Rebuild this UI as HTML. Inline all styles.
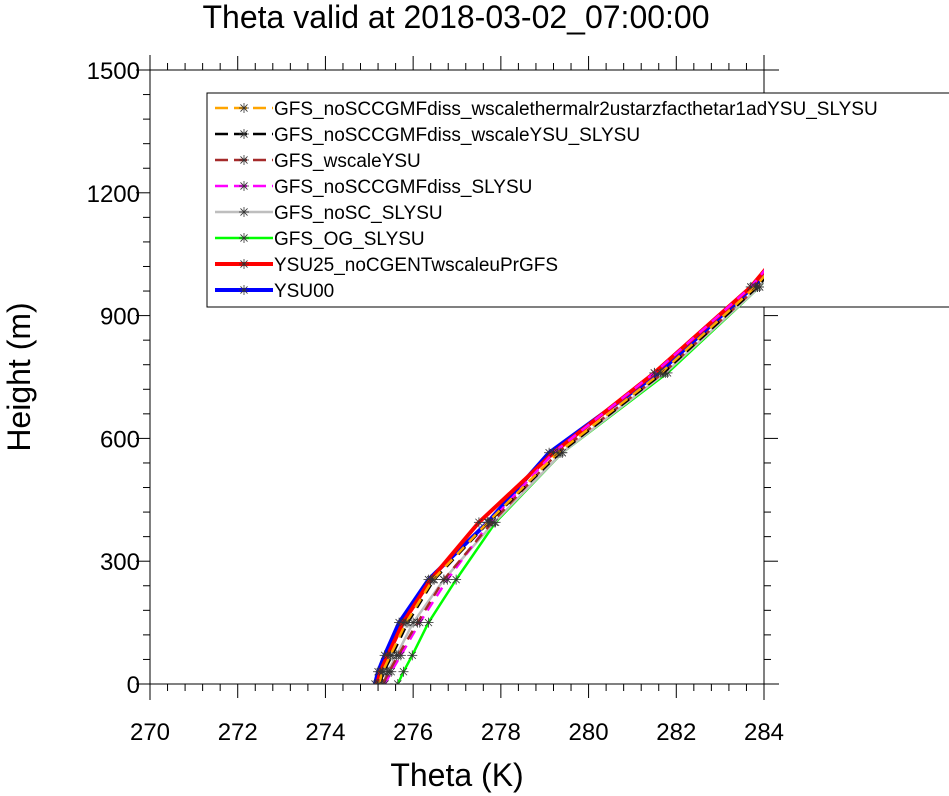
<!DOCTYPE html>
<html><head><meta charset="utf-8"><style>
body{margin:0;background:#fff}
svg{display:block;font-family:"Liberation Sans",sans-serif}
</style></head><body>
<svg id="chart" width="949" height="796" viewBox="0 0 949 796">
<defs><clipPath id="plotclip"><rect x="150" y="70" width="614" height="614"/></clipPath></defs>
<text x="456" y="28" font-size="32" text-anchor="middle">Theta valid at 2018-03-02_07:00:00</text>
<g id="axes"></g>
<g id="legend"></g>
<g id="series" clip-path="url(#plotclip)"></g>
<text x="457" y="786" font-size="32" text-anchor="middle">Theta (K)</text>
<text transform="translate(30,377) rotate(-90)" font-size="32" text-anchor="middle">Height (m)</text>
</svg>
<script>
const heights=[0,30,70,150,255,395,565,760,970,1015];
const xTicks=[270,272,274,276,278,280,282,284];
const yTicks=[0,300,600,900,1200,1500];
const names=["GFS_noSCCGMFdiss_wscalethermalr2ustarzfacthetar1adYSU_SLYSU","GFS_noSCCGMFdiss_wscaleYSU_SLYSU","GFS_wscaleYSU","GFS_noSCCGMFdiss_SLYSU","GFS_noSC_SLYSU","GFS_OG_SLYSU","YSU25_noCGENTwscaleuPrGFS","YSU00"];
const sOrange=[275.22,275.3,275.48,275.84,276.45,277.7,279.3,281.65,283.8,284.15];
const sBlack=[275.24,275.33,275.52,275.88,276.48,277.72,279.35,281.7,283.85,284.2];
const sBrown=[275.31,275.45,275.66,276.1,276.7,277.8,279.3,281.7,283.85,284.2];
const sMagenta=[275.36,275.5,275.72,276.15,276.78,277.75,279.2,281.5,283.7,284.05];
const sGray=[275.31,275.42,275.62,276.0,276.7,277.85,279.4,281.75,283.9,284.25];
const sGreen=[275.65,275.78,275.98,276.35,276.98,277.88,279.4,281.8,283.9,284.25];
const sRed=[275.18,275.25,275.42,275.77,276.4,277.5,279.2,281.5,283.7,284.05];
const sBlue=[275.13,275.2,275.35,275.68,276.35,277.7,279.1,281.6,283.75,284.15];
const NS="http://www.w3.org/2000/svg";
const X0=150,X1=764,Y0=684,Y1=70;
function xs(v){return X0+(v-270)/14*(X1-X0);}
function ys(v){return Y0-v/1500*(Y0-Y1);}
function mk(tag,attrs,parent){const e=document.createElementNS(NS,tag);for(const k in attrs)e.setAttribute(k,attrs[k]);parent.appendChild(e);return e;}
const axes=document.getElementById('axes');
let l;
l=mk('line',{x1:150,y1:Y1,x2:779,y2:Y1,stroke:'#000','stroke-width':1},axes);

l=mk('line',{x1:150,y1:Y0,x2:779,y2:Y0,stroke:'#000','stroke-width':1},axes);

l=mk('line',{x1:150,y1:55,x2:150,y2:700,stroke:'#000','stroke-width':1},axes);

l=mk('line',{x1:764,y1:55,x2:764,y2:700,stroke:'#000','stroke-width':1},axes);

for(let v=270;v<=284.01;v+=0.4){
  const x=xs(v);const major=Math.abs(v-Math.round(v))<0.01&&Math.round(v)%2===0;const len=major?14:7;
  mk('line',{x1:x,y1:Y0,x2:x,y2:Y0+len,stroke:'#000'},axes);
  mk('line',{x1:x,y1:Y1,x2:x,y2:Y1-len,stroke:'#000'},axes);
}
xTicks.forEach(v=>{const t=mk('text',{x:xs(v),y:Y0+56,'font-size':24,'text-anchor':'middle'},axes);t.textContent=v;
});
for(let v=0;v<=1500;v+=60){
  const y=ys(v);const major=v%300===0;const len=major?14:7;
  mk('line',{x1:X0,y1:y,x2:X0-len,y2:y,stroke:'#000'},axes);
  mk('line',{x1:X1,y1:y,x2:X1+len,y2:y,stroke:'#000'},axes);
}
yTicks.forEach(v=>{const t=mk('text',{x:X0-10,y:ys(v)+9,'font-size':24,'text-anchor':'end'},axes);t.textContent=v;
});
const seriesDefs=[
 {d:sOrange,c:'#ffa500',w:2.5,dash:'10,7'},
 {d:sBlack,c:'#000',w:2.5,dash:'10,7'},
 {d:sBrown,c:'#a52a2a',w:2.5,dash:'10,7'},
 {d:sMagenta,c:'#ff00ff',w:2.5,dash:'10,7'},
 {d:sGray,c:'#bebebe',w:2.5,dash:''},
 {d:sGreen,c:'#00ff00',w:2.5,dash:''},
 {d:sRed,c:'#ff0000',w:4,dash:''},
 {d:sBlue,c:'#0000ff',w:4,dash:''}];
function star(g,x,y){
  for(let a=0;a<180;a+=45){const r=a*Math.PI/180;mk('line',{x1:x-5*Math.cos(r),y1:y-5*Math.sin(r),x2:x+5*Math.cos(r),y2:y+5*Math.sin(r),stroke:'#333','stroke-width':0.8},g);}
}
const lg=document.getElementById('legend');
const box=mk('rect',{x:207,y:93,width:745,height:214,fill:'#fff',stroke:'#000','stroke-width':1},lg);

names.forEach((n,i)=>{const s=seriesDefs[i];const y=108+i*26;
  const g=mk('g',{},lg);
  
  mk('line',{x1:215,y1:y,x2:273,y2:y,stroke:s.c,'stroke-width':s.w,'stroke-dasharray':s.dash?'13,6':''},g);
  star(g,244,y);
  const t=mk('text',{x:274,y:y+7,'font-size':19},g);t.textContent=n;
});
const sg=document.getElementById('series');
const order=[7,6,5,4,3,2,1,0];
order.forEach(i=>{const s=seriesDefs[i];
  const g=mk('g',{},sg);
  
  
  const pts=s.d.map((v,j)=>xs(v)+','+ys(heights[j])).join(' ');
  const p=mk('polyline',{points:pts,fill:'none',stroke:s.c,'stroke-width':s.w,'stroke-dasharray':s.dash,'stroke-linejoin':'round'},g);
  
  s.d.forEach((v,j)=>{if(j<heights.length-1)star(g,xs(v),ys(heights[j]));});
});
</script>
</body></html>
